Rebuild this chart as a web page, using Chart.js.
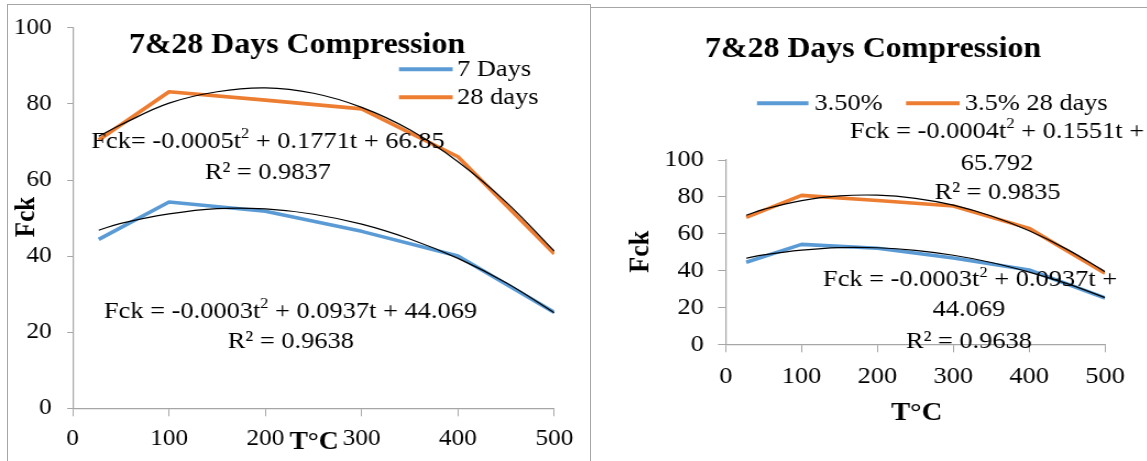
<!DOCTYPE html>
<html><head><meta charset="utf-8">
<script src="https://cdn.jsdelivr.net/npm/chart.js@4/dist/chart.umd.min.js"></script>
<style>
html,body{margin:0;padding:0;background:#fff;overflow:hidden;width:1147px;height:461px;}
.box{position:absolute;border:1.5px solid #a6a6a6;border-bottom:none;box-sizing:border-box;}
.wrap{position:absolute;top:0;transform:scaleX(1.1);transform-origin:0 0;}
canvas{display:block;}
</style></head><body>
<div class="box" style="left:7px;top:4px;width:584px;height:480px;"></div>
<div class="box" style="left:590px;top:7px;width:600px;height:480px;"></div>
<div class="wrap" style="left:0;width:536px;height:461px;"><canvas id="c1" width="536" height="461"></canvas></div>
<div class="wrap" style="left:590px;width:506px;height:461px;"><canvas id="c2" width="506" height="461"></canvas></div>
<script>
// ---------- data ----------
const temps = [27, 100, 200, 300, 400, 500];
const days7 = [44.4, 54.2, 51.8, 46.5, 40.0, 25.2];
const days28 = [70.5, 83.2, 81.0, 78.7, 66.1, 40.6];
const trendTemps = [27, 50, 100, 150, 200, 250, 300, 350, 400, 450, 500];
const trend7 = [46.8, 48.6, 51.1, 52.5, 52.4, 51.0, 48.4, 44.5, 39.4, 33.0, 25.1];
const trend28 = [71.5, 74.5, 80.2, 83.2, 84.2, 82.8, 79.1, 73.2, 64.8, 54.2, 41.3];
const pct35 = [44.5, 54.2, 52.1, 46.8, 40.3, 25.1];
const pct35d28 = [68.9, 80.8, 78.0, 75.0, 62.9, 38.5];
const trendPct35 = [46.7, 48.5, 51.1, 52.5, 52.4, 51.0, 48.3, 44.4, 39.2, 32.9, 25.3];
const trendPct35d28 = [70.0, 73.2, 78.0, 80.5, 80.9, 79.2, 75.5, 69.6, 61.6, 51.5, 39.4];
const xMin = 0, xMax = 500, xStep = 100;
const yMin = 0, yMax = 100, yStep = 20;
const chartTitle = "7&28 Days Compression";
const yTitle = "Fck";
const xTitle = "T°C";
const leftLabels = ["7 Days", "28 days"];
const rightLabels = ["3.50%", "3.5% 28 days"];

const BLUE = "#5B9BD5", ORANGE = "#ED7D31";
const FONT = '"Liberation Serif", "Times New Roman", serif';
Chart.defaults.font.family = FONT;
Chart.defaults.color = "#000";

const pts = (xs, ys) => xs.map((x, i) => ({x: x, y: ys[i]}));

function drawRich(ctx, parts, cx, cy, size) {
  let total = 0;
  const widths = parts.map(p => {
    ctx.font = (p[1] ? Math.round(size * 0.62) : size) + "px " + FONT;
    const w = ctx.measureText(p[0]).width; total += w; return w;
  });
  let x = cx - total / 2;
  ctx.textAlign = "left";
  ctx.textBaseline = "middle";
  parts.forEach((p, i) => {
    ctx.font = (p[1] ? Math.round(size * 0.62) : size) + "px " + FONT;
    ctx.fillText(p[0], x, p[1] ? cy - size * 0.3 : cy);
    x += widths[i];
  });
}

function makeChart(id, opt) {
  const ctx = document.getElementById(id).getContext("2d");
  const overlay = {
    id: "overlay",
    afterDraw(chart) {
      const c = chart.ctx;
      c.save();
      c.fillStyle = "#000";
      c.font = "bold " + opt.titleSize + "px " + FONT;
      c.textAlign = "center"; c.textBaseline = "alphabetic";
      c.fillText(chartTitle, opt.titleX, opt.titleY);
      opt.legend.forEach(l => {
        c.strokeStyle = l.color; c.lineWidth = 4; c.lineCap = "butt";
        c.beginPath(); c.moveTo(l.x1, l.y); c.lineTo(l.x2, l.y); c.stroke();
        c.font = opt.legendSize + "px " + FONT;
        c.textAlign = "left"; c.textBaseline = "middle";
        c.fillText(l.text, l.tx, l.y);
      });
      opt.notes.forEach(n => drawRich(c, n.parts, n.x, n.y, opt.noteSize));
      c.font = "bold " + opt.axisTitleSize + "px " + FONT;
      c.textAlign = "center"; c.textBaseline = "middle";
      c.fillText(xTitle, opt.xTitleX, opt.xTitleY);
      c.translate(opt.yTitleX, opt.yTitleY);
      c.rotate(-Math.PI / 2);
      c.fillText(yTitle, 0, 0);
      c.restore();
    }
  };
  return new Chart(ctx, {
    type: "line",
    data: {
      datasets: [
        {label: opt.labels[0], data: pts(temps, opt.s1), borderColor: BLUE, borderWidth: 3.6, pointRadius: 0, order: 2, borderJoinStyle: "round"},
        {label: opt.labels[1], data: pts(temps, opt.s2), borderColor: ORANGE, borderWidth: 3.6, pointRadius: 0, order: 2, borderJoinStyle: "round"},
        {label: "trend1", data: pts(trendTemps, opt.t1), borderColor: "#000", borderWidth: 1.2, pointRadius: 0, tension: 0.4, order: 0},
        {label: "trend2", data: pts(trendTemps, opt.t2), borderColor: "#000", borderWidth: 1.2, pointRadius: 0, tension: 0.4, order: 0}
      ]
    },
    options: {
      responsive: false,
      animation: false,
      layout: {padding: opt.padding},
      plugins: {legend: {display: false}, tooltip: {enabled: false}, title: {display: false}},
      scales: {
        x: {
          type: "linear", min: xMin, max: xMax,
          ticks: {stepSize: xStep, font: {size: opt.tickSize}, padding: opt.xTickPad, color: "#000", maxRotation: 0},
          grid: {drawOnChartArea: false, drawTicks: true, tickLength: opt.xTickLen, color: "#a6a6a6"},
          border: {color: "#a6a6a6", width: 1.2},
          afterFit(s) { s.height = opt.xAxisH; }
        },
        y: {
          type: "linear", min: yMin, max: yMax,
          ticks: {stepSize: yStep, font: {size: opt.tickSize}, padding: opt.yTickPad, color: "#000"},
          grid: {drawOnChartArea: false, drawTicks: true, tickLength: opt.yTickLen, color: "#a6a6a6"},
          border: {color: "#a6a6a6", width: 1.2},
          afterFit(s) { s.width = opt.yAxisW; }
        }
      }
    },
    plugins: [overlay]
  });
}

makeChart("c1", {
  labels: leftLabels, s1: days7, s2: days28, t1: trend7, t2: trend28,
  padding: {top: 25.3, right: 32.1, left: 0, bottom: 0},
  yAxisW: 66.1, xAxisH: 52.7, tickSize: 23, xTickPad: 9, xTickLen: 8, yTickPad: 14, yTickLen: 5,
  titleSize: 29, titleX: 270, titleY: 53,
  legendSize: 24,
  legend: [
    {color: BLUE, x1: 362.7, x2: 411.5, y: 69.3, tx: 415.5, text: leftLabels[0]},
    {color: ORANGE, x1: 362.7, x2: 411.5, y: 97.3, tx: 415.5, text: leftLabels[1]}
  ],
  noteSize: 24,
  notes: [
    {x: 243.6, y: 141.7, parts: [["Fck= -0.0005t", false], ["2", true], [" + 0.1771t + 66.85", false]]},
    {x: 243.5, y: 172.5, parts: [["R² = 0.9837", false]]},
    {x: 264.1, y: 311.7, parts: [["Fck = -0.0003t", false], ["2", true], [" + 0.0937t + 44.069", false]]},
    {x: 264.4, y: 341.7, parts: [["R² = 0.9638", false]]}
  ],
  axisTitleSize: 25, xTitleX: 285.5, xTitleY: 443, yTitleX: 24.4, yTitleY: 217
});

makeChart("c2", {
  labels: rightLabels, s1: pct35, s2: pct35d28, t1: trendPct35, t2: trendPct35d28,
  padding: {top: 160, right: 37.8, left: 0, bottom: 0},
  yAxisW: 123.4, xAxisH: 116.7, tickSize: 24, xTickPad: 10, xTickLen: 8, yTickPad: 13, yTickLen: 7,
  titleSize: 29, titleX: 257.3, titleY: 57,
  legendSize: 24,
  legend: [
    {color: BLUE, x1: 151.8, x2: 198.6, y: 103.3, tx: 204, text: rightLabels[0]},
    {color: ORANGE, x1: 287.3, x2: 336, y: 103.3, tx: 340.7, text: rightLabels[1]}
  ],
  noteSize: 24,
  notes: [
    {x: 370, y: 131.7, parts: [["Fck = -0.0004t", false], ["2", true], [" + 0.1551t +", false]]},
    {x: 370, y: 163.3, parts: [["65.792", false]]},
    {x: 370.5, y: 192.7, parts: [["R² = 0.9835", false]]},
    {x: 345.5, y: 280, parts: [["Fck = -0.0003t", false], ["2", true], [" + 0.0937t +", false]]},
    {x: 344.5, y: 310, parts: [["44.069", false]]},
    {x: 344.5, y: 341.7, parts: [["R² = 0.9638", false]]}
  ],
  axisTitleSize: 26, xTitleX: 297, xTitleY: 413.5, yTitleX: 46, yTitleY: 251.7
});
</script>
</body></html>
